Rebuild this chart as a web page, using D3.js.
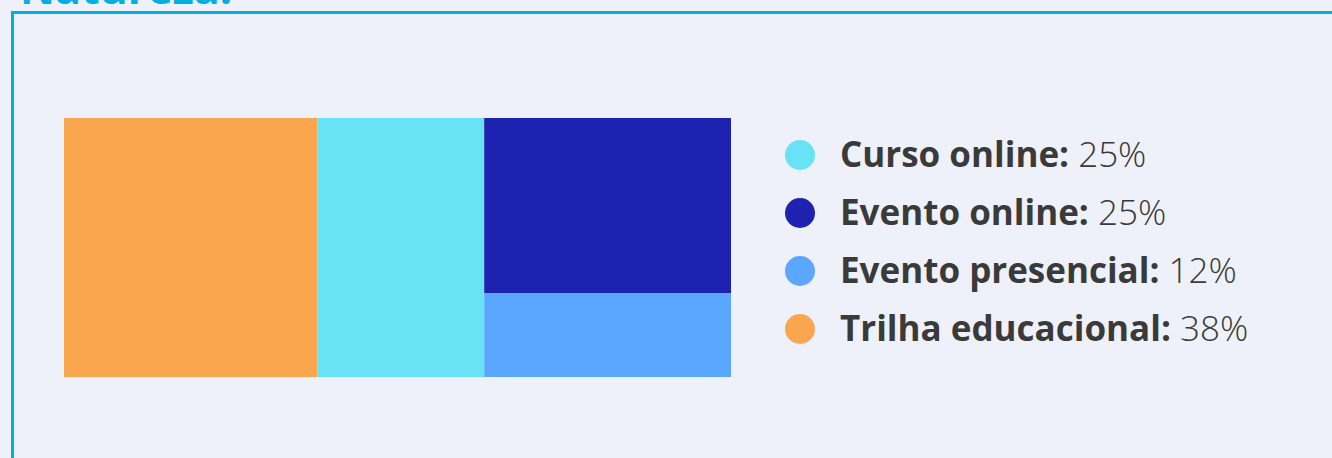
<!DOCTYPE html>
<html lang="pt">
    <head>
        <meta charset="utf-8">
        <title>Natureza</title>
        <script type="text/javascript" src="https://cdn.jsdelivr.net/npm/d3@7"></script>
        <style>
            body { margin: 0; background: #eef1f9; }
        </style>
    </head>
    <body>
        <script type="text/javascript">
            // Data
            var categories = ["Curso online", "Evento online", "Evento presencial", "Trilha educacional"];
            var values = [25, 25, 12, 38];
            var colors = ["#68e2f5", "#1e22b0", "#5ba7ff", "#faa64f"];

            // Width and height
            var w = 1332;
            var h = 458;

            var svg = d3.select("body")
                        .append("svg")
                        .attr("width", w)
                        .attr("height", h);

            // Title (mostly off the top)
            svg.append("text")
                .attr("x", 20)
                .attr("y", 4)
                .attr("font-family", "Open Sans")
                .attr("font-weight", 700)
                .attr("font-size", 43)
                .attr("fill", "#00aee0")
                .text("Natureza:");

            // Frame
            svg.append("rect")
                .attr("x", 12.5)
                .attr("y", 12.5)
                .attr("width", w)
                .attr("height", h)
                .attr("fill", "#eef1f9")
                .attr("stroke", "#00aee0")
                .attr("stroke-width", 3);

            // Treemap
            var root = d3.hierarchy({
                    children: categories.map(function(c, i) {
                        return { name: c, value: values[i], color: colors[i] };
                    })
                })
                .sum(function(d) { return d.value || 0; })
                .sort(function(a, b) { return b.value - a.value; });

            d3.treemap()
                .tile(d3.treemapSquarify.ratio(1))
                .size([667, 259])
                (root);

            var tm = svg.append("g")
                .attr("transform", "translate(64,118)");

            tm.selectAll("rect")
                .data(root.leaves())
                .enter()
                .append("rect")
                .attr("x", function(d) { return d.x0; })
                .attr("y", function(d) { return d.y0; })
                .attr("width", function(d) { return d.x1 - d.x0; })
                .attr("height", function(d) { return d.y1 - d.y0; })
                .attr("fill", function(d) { return d.data.color; });

            // Legend
            var yLegend = d3.scalePoint()
                .domain(categories)
                .range([155, 329]);

            var item = svg.selectAll(".legend")
                .data(categories)
                .enter()
                .append("g")
                .attr("class", "legend")
                .attr("transform", function(d) { return "translate(800," + yLegend(d) + ")"; });

            item.append("circle")
                .attr("r", 15)
                .attr("fill", function(d, i) { return colors[i]; });

            var label = item.append("text")
                .attr("x", 40)
                .attr("dy", "0.35em")
                .attr("font-family", "Open Sans")
                .attr("font-size", 35)
                .attr("fill", "#3a3a3a");

            label.append("tspan")
                .attr("font-weight", 700)
                .text(function(d) { return d + ":"; });

            label.append("tspan")
                .attr("font-weight", 300)
                .text(function(d, i) { return " " + values[i] + "%"; });
        </script>
    </body>
</html>
